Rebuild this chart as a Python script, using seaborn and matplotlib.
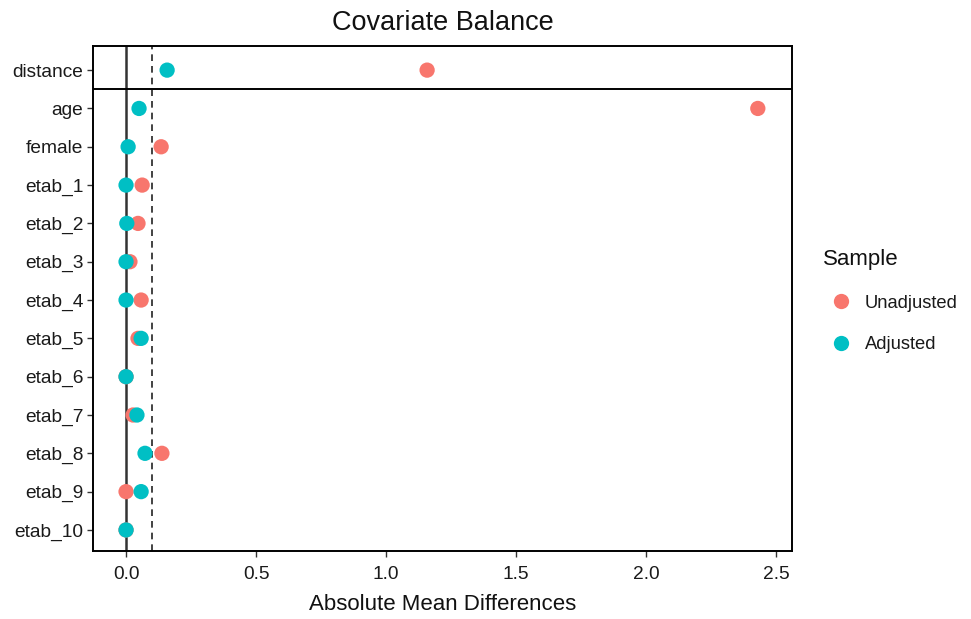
import matplotlib
matplotlib.use("Agg")
import matplotlib.pyplot as plt
import seaborn as sns
import pandas as pd

# Covariates in display order (top to bottom)
covariates = ["distance", "age", "female", "etab_1", "etab_2", "etab_3", "etab_4",
              "etab_5", "etab_6", "etab_7", "etab_8", "etab_9", "etab_10"]

# Absolute mean differences before and after matching
unadjusted = [1.158, 2.43, 0.135, 0.062, 0.046, 0.015, 0.058,
              0.046, 0.0, 0.027, 0.138, 0.0, 0.0]
adjusted = [0.158, 0.05, 0.008, 0.0, 0.003, 0.0, 0.0,
            0.058, 0.0, 0.042, 0.073, 0.058, 0.0]

samples = ["Unadjusted", "Adjusted"]
palette = {"Unadjusted": "#F8766D", "Adjusted": "#00BFC4"}
threshold = 0.1
x_ticks = [0.0, 0.5, 1.0, 1.5, 2.0, 2.5]

df = pd.DataFrame({
    "covariate": covariates * 2,
    "diff": unadjusted + adjusted,
    "Sample": ["Unadjusted"] * len(covariates) + ["Adjusted"] * len(covariates),
})

sns.set_theme(style="white")
plt.rcParams["font.family"] = ["Liberation Sans", "DejaVu Sans"]

fig = plt.figure(figsize=(9.71, 6.19), dpi=100)
ax = fig.add_axes([0.0958, 0.1098, 0.72, 0.8159])

# Reference lines: zero and balance threshold
ax.axvline(0, color="#333333", linewidth=1.8, zorder=1)
ax.axvline(threshold, color="#222222", linewidth=1.2, linestyle=(0, (4, 3)), zorder=1)

sns.stripplot(data=df, x="diff", y="covariate", hue="Sample", order=covariates,
              hue_order=samples, palette=palette, jitter=False, dodge=False,
              size=11, linewidth=0, ax=ax, zorder=3)

# Separate the propensity score row from the covariates
ax.axhline(0.5, color="black", linewidth=1.4, zorder=2)

ax.set_xlim(-0.127, 2.562)
ax.set_ylim(12.55, -0.63)
ax.set_xticks(x_ticks)
ax.set_xticklabels([f"{t:.1f}" for t in x_ticks])
ax.set_xlabel("Absolute Mean Differences", fontsize=16, color="#111111", labelpad=8)
ax.set_ylabel("")
ax.set_title("Covariate Balance", fontsize=19.5, color="#111111", pad=11.5)

ax.tick_params(axis="both", which="both", direction="out", length=4, width=1,
               color="#333333", labelsize=13.8, labelcolor="#1a1a1a",
               bottom=True, left=True)
ax.tick_params(axis="x", pad=7)
ax.tick_params(axis="y", pad=3)
for side in ["left", "right", "top", "bottom"]:
    ax.spines[side].set_visible(True)
    ax.spines[side].set_color("black")
    ax.spines[side].set_linewidth(1.4)

handles, labels = ax.get_legend_handles_labels()
leg = ax.legend(handles, labels, title="Sample", loc="center left",
                bbox_to_anchor=(1.02, 0.495), frameon=False, fontsize=13.2,
                title_fontsize=16, markerscale=1.0, handletextpad=0.3,
                labelspacing=1.35)
leg._legend_box.align = "left"
leg.get_title().set_color("#111111")
for t in leg.get_texts():
    t.set_color("#1a1a1a")

fig.savefig("out.png", dpi=100)
